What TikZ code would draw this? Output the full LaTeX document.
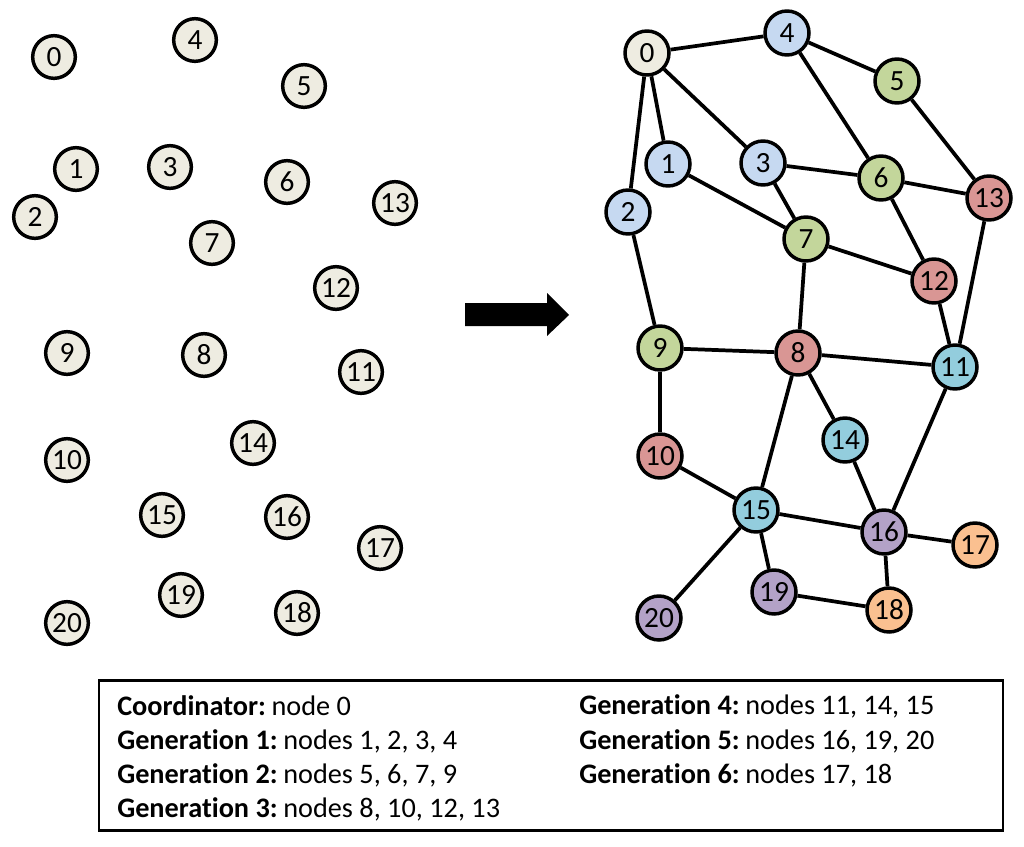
\documentclass[tikz,border=0pt]{standalone}
\usepackage{fontspec}
\setmainfont{Carlito}[Ligatures=NoCommon]
\definecolor{cbeige}{HTML}{EEECE1}
\definecolor{cblue}{HTML}{C6D9F1}
\definecolor{cgreen}{HTML}{C3D69B}
\definecolor{cred}{HTML}{D99694}
\definecolor{ccyan}{HTML}{93CDDD}
\definecolor{cpurple}{HTML}{B3A2C7}
\definecolor{corange}{HTML}{FAC090}
\begin{document}
\begin{tikzpicture}[x=0.75pt,y=-0.75pt,
  vtx/.style={circle,draw=black,line width=2.6pt,minimum size=33pt,inner sep=0pt,font=\fontsize{22}{22}\selectfont},
  lft/.style={vtx,fill=cbeige,minimum size=32pt},
  g0/.style={vtx,fill=cbeige},
  g1/.style={vtx,fill=cblue},
  g2/.style={vtx,fill=cgreen},
  g3/.style={vtx,fill=cred},
  g4/.style={vtx,fill=ccyan},
  g5/.style={vtx,fill=cpurple},
  g6/.style={vtx,fill=corange},
  edge/.style={line width=2.8pt},
  legend/.style={anchor=west,inner sep=0pt,font=\fontsize{21.2}{22}\selectfont}]
\useasboundingbox (0,0) rectangle (1024,846);
% left scattered nodes
\node[lft] (l0) at (54,57) {0};
\node[lft] (l4) at (195,40) {4};
\node[lft] (l5) at (304,86) {5};
\node[lft] (l1) at (76,169) {1};
\node[lft] (l3) at (170,167) {3};
\node[lft] (l6) at (287,182) {6};
\node[lft] (l13) at (395,203) {13};
\node[lft] (l2) at (35,217) {2};
\node[lft] (l7) at (212,243) {7};
\node[lft] (l12) at (336,288) {12};
\node[lft] (l9) at (67,353) {9};
\node[lft] (l8) at (204,355) {8};
\node[lft] (l11) at (361,372) {11};
\node[lft] (l14) at (253,443) {14};
\node[lft] (l10) at (67,460) {10};
\node[lft] (l15) at (162,515) {15};
\node[lft] (l16) at (287,517) {16};
\node[lft] (l17) at (380,548) {17};
\node[lft] (l19) at (181,595) {19};
\node[lft] (l18) at (297,613) {18};
\node[lft] (l20) at (67,623) {20};
% arrow
\fill (465,303) -- (547,303) -- (547,293) -- (569,315) -- (547,336) -- (547,326) -- (465,326) -- cycle;
% right graph nodes
\node[g0] (r0) at (647,53) {0};
\node[g1] (r4) at (787,33) {4};
\node[g2] (r5) at (897,81) {5};
\node[g1] (r1) at (668,164) {1};
\node[g1] (r3) at (763,163) {3};
\node[g2] (r6) at (881,178) {6};
\node[g3] (r13) at (989,198) {13};
\node[g1] (r2) at (628,212) {2};
\node[g2] (r7) at (806,239) {7};
\node[g3] (r12) at (934,281) {12};
\node[g2] (r9) at (660,348) {9};
\node[g3] (r8) at (798,353) {8};
\node[g4] (r11) at (955,367) {11};
\node[g4] (r14) at (845,440) {14};
\node[g3] (r10) at (660,456) {10};
\node[g4] (r15) at (756,510) {15};
\node[g5] (r16) at (884,532) {16};
\node[g6] (r17) at (975,545) {17};
\node[g5] (r19) at (774,592) {19};
\node[g6] (r18) at (889,610) {18};
\node[g5] (r20) at (659,618) {20};
\foreach \a/\b in {r0/r4,r0/r1,r0/r2,r0/r3,r4/r5,r4/r6,r5/r13,r3/r6,r3/r7,r1/r7,r6/r13,r6/r12,r7/r12,r7/r8,r2/r9,r13/r11,r12/r11,r9/r8,r8/r11,r8/r14,r8/r15,r9/r10,r10/r15,r14/r16,r11/r16,r15/r16,r15/r20,r15/r19,r16/r17,r16/r18,r19/r18}
  \draw[edge] (\a) -- (\b);
% legend box
\node[draw=black,line width=2.2pt,minimum width=678pt,minimum height=113pt,inner sep=0pt] (box) at (551,755.5) {};
\node[legend] (c0) at (117,706) {\textbf{Coordinator:}\hspace{-0.1em} node 0};
\node[legend] (c1) at (117,741) {\textbf{Generation 1:}\hspace{-0.1em} nodes 1, 2, 3, 4};
\node[legend] (c2) at (117,775) {\textbf{Generation 2:}\hspace{-0.1em} nodes 5, 6, 7, 9};
\node[legend] (c3) at (117,809) {\textbf{Generation 3:}\hspace{-0.1em} nodes 8, 10, 12, 13};
\node[legend] (c4) at (579,706) {\textbf{Generation 4:}\hspace{-0.1em} nodes 11, 14, 15};
\node[legend] (c5) at (579,741) {\textbf{Generation 5:}\hspace{-0.1em} nodes 16, 19, 20};
\node[legend] (c6) at (579,775) {\textbf{Generation 6:}\hspace{-0.1em} nodes 17, 18};
\end{tikzpicture}
\end{document}
